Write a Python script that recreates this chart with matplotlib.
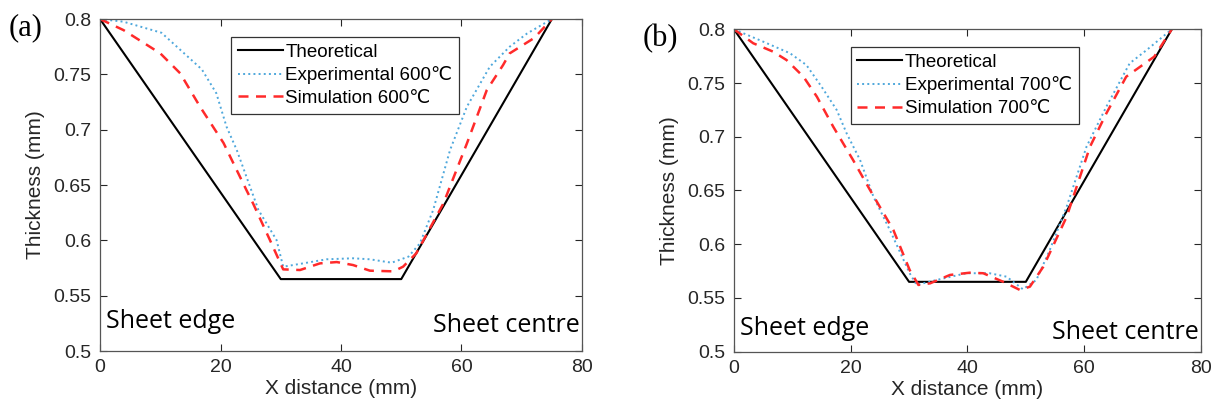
import matplotlib

matplotlib.use("Agg")
import matplotlib.pyplot as plt

plt.rcParams["font.family"] = ["Liberation Sans", "DejaVu Sans"]

# theoretical profile (same for both temperatures)
theo_x = [0, 30, 50, 75]
theo_y = [0.8, 0.565, 0.565, 0.8]

# (a) 600 C
exp600_x = [0, 3.9, 10.2, 16.9, 19.3, 21.0, 22.7, 24.9, 26.3, 29.3, 30.4, 33.7, 37.6,
            42.0, 44.8, 48.4, 51.2, 53.1, 55.3, 58.1, 60.9, 64.7, 68.0, 70.9, 75]
exp600_y = [0.8, 0.7976, 0.7876, 0.7545, 0.733, 0.7027, 0.6816, 0.6485, 0.6274, 0.6003,
            0.5762, 0.5792, 0.5829, 0.5838, 0.5829, 0.5798, 0.5853, 0.5973, 0.6274,
            0.6816, 0.7208, 0.7569, 0.775, 0.787, 0.8]
sim600_x = [0, 3.9, 10.0, 13.3, 16.6, 20.5, 24.3, 25.4, 28.2, 30.4, 33.2, 36.5, 39.3,
            42.0, 44.8, 48.7, 50.3, 52.5, 57.0, 60.9, 64.2, 66.9, 68.0, 72.1, 75]
sim600_y = [0.8, 0.790, 0.769, 0.751, 0.7208, 0.688, 0.6455, 0.6334, 0.6003, 0.5738,
            0.5732, 0.5792, 0.5804, 0.5777, 0.5726, 0.572, 0.5762, 0.5883, 0.6334,
            0.6876, 0.7358, 0.7584, 0.769, 0.783, 0.8]

# (b) 700 C
exp700_x = [0, 5.0, 9.6, 12.4, 15.0, 17.6, 19.3, 21.6, 23.9, 26.7, 30.1, 31.3, 34.7,
            39.8, 43.8, 46.7, 49.5, 51.8, 54.1, 57.0, 60.4, 63.8, 67.8, 70.7, 75]
exp700_y = [0.8, 0.7885, 0.7777, 0.7668, 0.7466, 0.7249, 0.7032, 0.6784, 0.6442, 0.6133,
            0.573, 0.5621, 0.5667, 0.573, 0.573, 0.5698, 0.5581, 0.5667, 0.5946, 0.635,
            0.6908, 0.728, 0.7684, 0.7807, 0.8]
sim700_x = [0, 3.3, 6.7, 9.0, 11.9, 14.2, 17.0, 20.4, 23.3, 27.3, 30.1, 31.6, 33.6, 37.0,
            40.4, 42.7, 46.1, 49.0, 50.7, 53.0, 57.0, 61.0, 63.8, 67.2, 72.0, 75]
sim700_y = [0.8, 0.787, 0.7792, 0.7714, 0.7559, 0.7373, 0.7094, 0.6784, 0.6505, 0.6133,
            0.576, 0.5621, 0.5636, 0.5714, 0.5735, 0.573, 0.5651, 0.5574, 0.5605, 0.5791,
            0.6256, 0.6908, 0.7218, 0.7559, 0.7745, 0.8]

xticks = [0, 20, 40, 60, 80]
yticks = [0.5, 0.55, 0.6, 0.65, 0.7, 0.75, 0.8]
ytick_labels = ["0.5", "0.55", "0.6", "0.65", "0.7", "0.75", "0.8"]

panels = [
    ("(a)", "600℃", exp600_x, exp600_y, sim600_x, sim600_y,
     [0.0822, 0.1562, 0.396, 0.798], (0.272, 0.946), 0.0),
    ("(b)", "700℃", exp700_x, exp700_y, sim700_x, sim700_y,
     [0.6031, 0.1546, 0.3837, 0.775], (0.25, 0.945), -0.005),
]

fig = plt.figure(figsize=(12.17, 4.16), dpi=100)

for tag, temp, ex, ey, sx, sy, pos, leg_anchor, dy in panels:
    ax = fig.add_axes(pos)
    ax.plot(theo_x, theo_y, color="black", lw=1.5, label="Theoretical")
    ax.plot(ex, ey, color="#4fa8dc", lw=1.4, ls=":", label=f"Experimental {temp}")
    ax.plot(sx, sy, color="#ff2a2a", lw=1.8, ls=(0, (4, 3)), label=f"Simulation {temp}")
    ax.set_xlim(0, 80)
    ax.set_ylim(0.5, 0.8)
    ax.set_xticks(xticks)
    ax.set_yticks(yticks)
    ax.set_yticklabels(ytick_labels)
    ax.tick_params(direction="in", top=True, right=True, length=5, width=0.8,
                   labelsize=14, colors="#262626", pad=6)
    for sp in ax.spines.values():
        sp.set_color("#555555")
        sp.set_linewidth(0.9)
    ax.set_xlabel("X distance (mm)", fontsize=15, color="#262626", labelpad=2)
    ax.set_ylabel("Thickness (mm)", fontsize=15, color="#262626", labelpad=6)
    leg = ax.legend(loc="upper left", bbox_to_anchor=leg_anchor, fontsize=13.5,
                    fancybox=False, framealpha=1, edgecolor="#333333",
                    handlelength=2.4, handletextpad=0.15, borderpad=0.35,
                    labelspacing=0.3, borderaxespad=0)
    leg.get_frame().set_linewidth(0.9)
    ax.text(1, 0.527 + dy, "Sheet edge", fontsize=18, family="Open Sans",
            ha="left", va="center")
    ax.text(79.6, 0.523 + dy, "Sheet centre", fontsize=18, family="Open Sans",
            ha="right", va="center")
    fig.text(pos[0] - 0.075, pos[1] + pos[3] - 0.022, tag, fontsize=22,
             family="Liberation Serif", ha="left", va="center")

fig.savefig("out.png", dpi=100)
